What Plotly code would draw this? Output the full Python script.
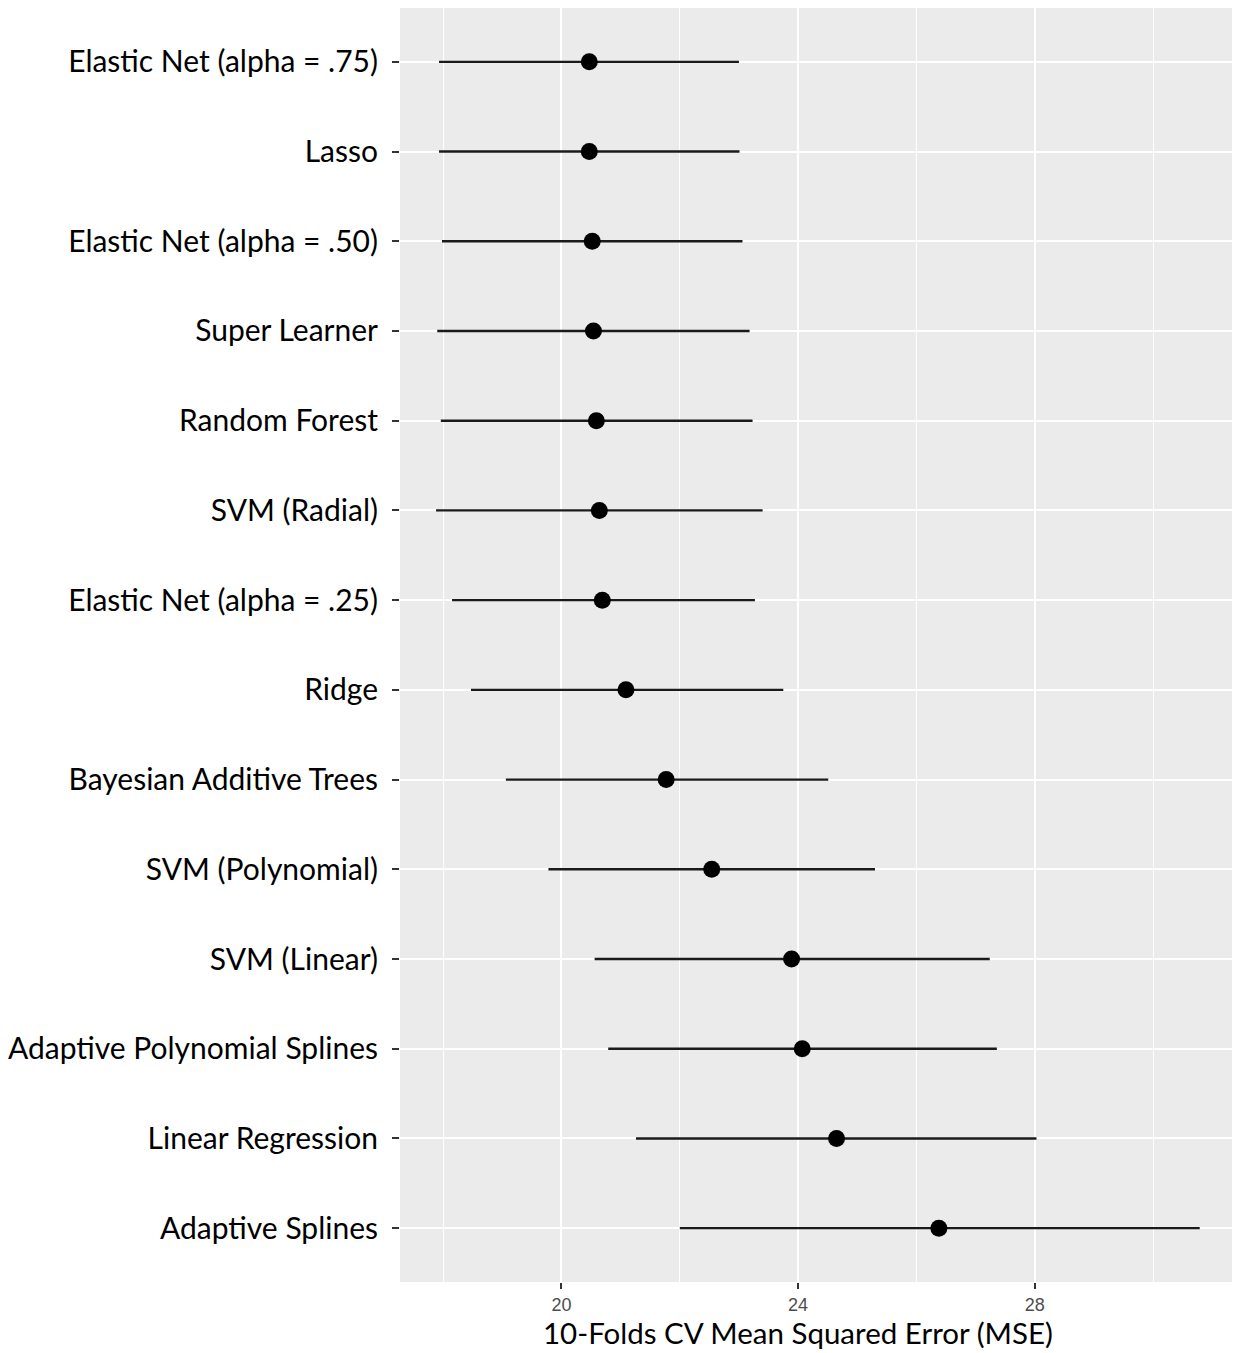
import plotly.graph_objects as go

models = [
    "Elastic Net (alpha = .75)", "Lasso", "Elastic Net (alpha = .50)", "Super Learner",
    "Random Forest", "SVM (Radial)", "Elastic Net (alpha = .25)", "Ridge",
    "Bayesian Additive Trees", "SVM (Polynomial)", "SVM (Linear)",
    "Adaptive Polynomial Splines", "Linear Regression", "Adaptive Splines",
]
mse_mean = [20.47, 20.47, 20.52, 20.54, 20.59, 20.64, 20.69, 21.09, 21.77, 22.54, 23.89, 24.07, 24.65, 26.38]
mse_low = [17.93, 17.93, 17.98, 17.90, 17.96, 17.88, 18.15, 18.47, 19.06, 19.78, 20.56, 20.79, 21.26, 22.00]
mse_high = [23.00, 23.01, 23.06, 23.18, 23.23, 23.40, 23.27, 23.75, 24.51, 25.30, 27.24, 27.36, 28.03, 30.79]
x_ticks = [20, 24, 28]
x_minor = [18, 22, 26, 30]
x_title = "10-Folds CV Mean Squared Error (MSE)"

err_plus = [h - m for h, m in zip(mse_high, mse_mean)]
err_minus = [m - l for m, l in zip(mse_mean, mse_low)]

fig = go.Figure()
fig.add_trace(go.Scatter(
    x=mse_mean, y=models, mode="markers",
    marker=dict(color="black", size=17),
    error_x=dict(type="data", symmetric=False, array=err_plus, arrayminus=err_minus,
                 color="#1a1a1a", thickness=2.4, width=0),
    showlegend=False,
))

fig.update_layout(
    width=1232, height=1345,
    margin=dict(l=388, r=3, t=0, b=71),
    paper_bgcolor="white", plot_bgcolor="#EBEBEB",
    font=dict(family="Lato, Open Sans, sans-serif", color="black"),
)
fig.add_annotation(
    text=x_title, xref="paper", yref="paper", x=0.476, y=-0.040,
    xanchor="center", yanchor="middle", showarrow=False,
    font=dict(size=29.5, family="Lato", color="black"),
)
fig.update_xaxes(
    range=[17.27, 31.42], tickvals=x_ticks, ticktext=[str(t) for t in x_ticks],
    showgrid=True, gridcolor="white", gridwidth=2,
    minor=dict(tickvals=x_minor, showgrid=True, gridcolor="white", gridwidth=1, ticks=""),
    ticks="outside", ticklen=6, tickcolor="#333333", tickwidth=1.5,
    tickfont=dict(family="Liberation Sans Narrow, Liberation Sans, Arial", size=18, color="#4d4d4d"),
    zeroline=False, showline=False,
)
fig.update_yaxes(
    categoryorder="array", categoryarray=models[::-1],
    range=[-0.6, 13.6],
    showgrid=True, gridcolor="white", gridwidth=2,
    ticks="outside", ticklen=7, tickcolor="#333333", tickwidth=1.5,
    tickfont=dict(family="Lato", size=30, color="black"),
    ticklabelstandoff=8,
    zeroline=False, showline=False,
)

fig.write_html("out.html")
